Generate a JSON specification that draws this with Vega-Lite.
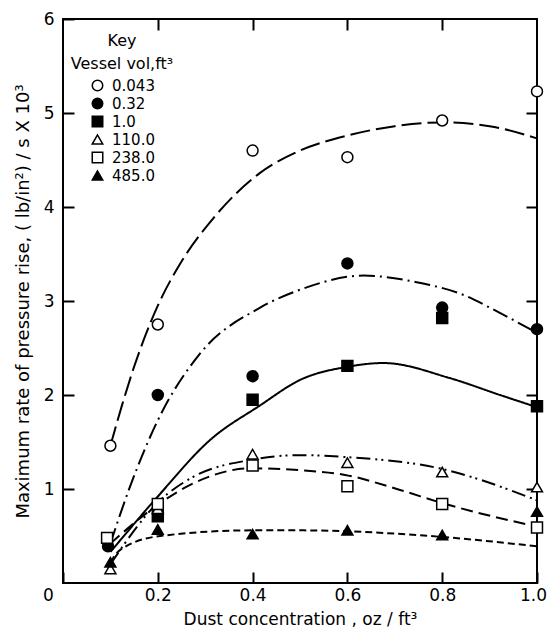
{
  "$schema": "https://vega.github.io/schema/vega-lite/v6.json",
  "width": 474,
  "height": 564,
  "autosize": {"type": "none"},
  "padding": {"left": 63, "top": 19, "right": 14, "bottom": 47},
  "background": "white",
  "config": {
    "view": {"stroke": "black", "strokeWidth": 2},
    "font": "DejaVu Sans",
    "axis": {
      "grid": false,
      "domain": false,
      "labelFlush": false,
      "tickColor": "black",
      "tickWidth": 2,
      "labelColor": "black",
      "titleColor": "black",
      "labelFont": "DejaVu Sans",
      "titleFont": "DejaVu Sans",
      "titleFontWeight": "normal",
      "labelFontSize": 17,
      "titleFontSize": 17
    },
    "legend": {
      "titleFont": "DejaVu Sans",
      "titleFontWeight": "normal",
      "titleFontSize": 16,
      "titleColor": "black",
      "labelFont": "DejaVu Sans",
      "labelFontSize": 15,
      "labelColor": "black"
    }
  },
  "datasets": {
    "points": [
      {"vol": "0.043", "x": 0.1, "y": 1.46},
      {"vol": "0.043", "x": 0.2, "y": 2.75},
      {"vol": "0.043", "x": 0.4, "y": 4.6},
      {"vol": "0.043", "x": 0.6, "y": 4.53},
      {"vol": "0.043", "x": 0.8, "y": 4.92},
      {"vol": "0.043", "x": 1.0, "y": 5.23},
      {"vol": "0.32", "x": 0.095, "y": 0.39},
      {"vol": "0.32", "x": 0.2, "y": 2.0},
      {"vol": "0.32", "x": 0.4, "y": 2.2},
      {"vol": "0.32", "x": 0.6, "y": 3.4},
      {"vol": "0.32", "x": 0.8, "y": 2.93},
      {"vol": "0.32", "x": 1.0, "y": 2.7},
      {"vol": "1.0", "x": 0.2, "y": 0.71},
      {"vol": "1.0", "x": 0.4, "y": 1.95},
      {"vol": "1.0", "x": 0.6, "y": 2.31},
      {"vol": "1.0", "x": 0.8, "y": 2.82},
      {"vol": "1.0", "x": 1.0, "y": 1.88},
      {"vol": "110.0", "x": 0.1, "y": 0.15},
      {"vol": "110.0", "x": 0.2, "y": 0.79},
      {"vol": "110.0", "x": 0.4, "y": 1.37},
      {"vol": "110.0", "x": 0.6, "y": 1.28},
      {"vol": "110.0", "x": 0.8, "y": 1.18},
      {"vol": "110.0", "x": 1.0, "y": 1.02},
      {"vol": "238.0", "x": 0.093, "y": 0.48},
      {"vol": "238.0", "x": 0.2, "y": 0.84},
      {"vol": "238.0", "x": 0.4, "y": 1.25},
      {"vol": "238.0", "x": 0.6, "y": 1.03},
      {"vol": "238.0", "x": 0.8, "y": 0.84},
      {"vol": "238.0", "x": 1.0, "y": 0.59},
      {"vol": "485.0", "x": 0.1, "y": 0.22},
      {"vol": "485.0", "x": 0.2, "y": 0.57},
      {"vol": "485.0", "x": 0.4, "y": 0.52},
      {"vol": "485.0", "x": 0.6, "y": 0.56},
      {"vol": "485.0", "x": 0.8, "y": 0.51},
      {"vol": "485.0", "x": 1.0, "y": 0.76}
    ],
    "curves": [
      {"curve": "fit 0.043", "x": 0.1, "y": 1.46},
      {"curve": "fit 0.043", "x": 0.125, "y": 1.9},
      {"curve": "fit 0.043", "x": 0.15, "y": 2.3},
      {"curve": "fit 0.043", "x": 0.2, "y": 2.95},
      {"curve": "fit 0.043", "x": 0.25, "y": 3.42},
      {"curve": "fit 0.043", "x": 0.317, "y": 3.88},
      {"curve": "fit 0.043", "x": 0.415, "y": 4.36},
      {"curve": "fit 0.043", "x": 0.5, "y": 4.6},
      {"curve": "fit 0.043", "x": 0.6, "y": 4.76},
      {"curve": "fit 0.043", "x": 0.7, "y": 4.86},
      {"curve": "fit 0.043", "x": 0.8, "y": 4.9},
      {"curve": "fit 0.043", "x": 0.9, "y": 4.86},
      {"curve": "fit 0.043", "x": 1.0, "y": 4.73},
      {"curve": "fit 0.32", "x": 0.1, "y": 0.42},
      {"curve": "fit 0.32", "x": 0.141, "y": 1.02},
      {"curve": "fit 0.32", "x": 0.2, "y": 1.73},
      {"curve": "fit 0.32", "x": 0.289, "y": 2.44},
      {"curve": "fit 0.32", "x": 0.416, "y": 2.93},
      {"curve": "fit 0.32", "x": 0.5, "y": 3.12},
      {"curve": "fit 0.32", "x": 0.634, "y": 3.27},
      {"curve": "fit 0.32", "x": 0.746, "y": 3.2},
      {"curve": "fit 0.32", "x": 0.852, "y": 3.05},
      {"curve": "fit 0.32", "x": 0.9, "y": 2.93},
      {"curve": "fit 0.32", "x": 1.0, "y": 2.66},
      {"curve": "fit 1.0", "x": 0.1, "y": 0.33},
      {"curve": "fit 1.0", "x": 0.2, "y": 0.92},
      {"curve": "fit 1.0", "x": 0.31, "y": 1.52},
      {"curve": "fit 1.0", "x": 0.416, "y": 1.89},
      {"curve": "fit 1.0", "x": 0.5, "y": 2.16},
      {"curve": "fit 1.0", "x": 0.6, "y": 2.3},
      {"curve": "fit 1.0", "x": 0.676, "y": 2.34},
      {"curve": "fit 1.0", "x": 0.816, "y": 2.18},
      {"curve": "fit 1.0", "x": 0.922, "y": 2.0},
      {"curve": "fit 1.0", "x": 1.0, "y": 1.87},
      {"curve": "fit 110.0", "x": 0.1, "y": 0.2},
      {"curve": "fit 110.0", "x": 0.205, "y": 0.88},
      {"curve": "fit 110.0", "x": 0.275, "y": 1.13},
      {"curve": "fit 110.0", "x": 0.397, "y": 1.31},
      {"curve": "fit 110.0", "x": 0.5, "y": 1.36},
      {"curve": "fit 110.0", "x": 0.595, "y": 1.34},
      {"curve": "fit 110.0", "x": 0.794, "y": 1.22},
      {"curve": "fit 110.0", "x": 1.0, "y": 0.88},
      {"curve": "fit 238.0", "x": 0.1, "y": 0.42},
      {"curve": "fit 238.0", "x": 0.205, "y": 0.85},
      {"curve": "fit 238.0", "x": 0.275, "y": 1.06},
      {"curve": "fit 238.0", "x": 0.397, "y": 1.22},
      {"curve": "fit 238.0", "x": 0.5, "y": 1.2},
      {"curve": "fit 238.0", "x": 0.595, "y": 1.15},
      {"curve": "fit 238.0", "x": 0.711, "y": 0.99},
      {"curve": "fit 238.0", "x": 0.8, "y": 0.85},
      {"curve": "fit 238.0", "x": 1.0, "y": 0.6},
      {"curve": "fit 485.0", "x": 0.1, "y": 0.22},
      {"curve": "fit 485.0", "x": 0.12, "y": 0.35},
      {"curve": "fit 485.0", "x": 0.205, "y": 0.5},
      {"curve": "fit 485.0", "x": 0.397, "y": 0.56},
      {"curve": "fit 485.0", "x": 0.5, "y": 0.56},
      {"curve": "fit 485.0", "x": 0.8, "y": 0.49},
      {"curve": "fit 485.0", "x": 1.0, "y": 0.39}
    ]
  },
  "layer": [
    {
      "data": {"name": "curves"},
      "mark": {"type": "line", "interpolate": "monotone", "color": "black", "strokeWidth": 2},
      "encoding": {
        "x": {
          "field": "x", "type": "quantitative",
          "scale": {"domain": [0, 1], "nice": false, "zero": false},
          "axis": {
            "orient": "bottom",
            "values": [0, 0.2, 0.4, 0.6, 0.8, 1.0],
            "labelExpr": "datum.value == 0 ? '0' : format(datum.value, '.1f')",
            "tickSize": -11,
            "labelPadding": 15,
            "labelOffset": {"condition": [{"test": "datum.value == 0", "value": -15}, {"test": "datum.value == 1", "value": -4}], "value": 0},
            "title": "Dust concentration , oz / ft³",
            "titlePadding": 8
          }
        },
        "y": {
          "field": "y", "type": "quantitative",
          "scale": {"domain": [0, 6], "nice": false},
          "axis": {
            "orient": "left",
            "values": [1, 2, 3, 4, 5, 6],
            "tickSize": -11,
            "labelPadding": 20,
            "title": "Maximum  rate  of  pressure  rise,  ( lb/in²)  /  s  X  10³",
            "titleFontSize": 18,
            "titlePadding": 11
          }
        },
        "strokeDash": {
          "field": "curve", "type": "nominal",
          "scale": {
            "domain": ["fit 0.043", "fit 0.32", "fit 1.0", "fit 110.0", "fit 238.0", "fit 485.0"],
            "range": [[20, 6], [16, 5, 2, 5], [1, 0], [14, 5, 2, 4, 2, 5], [12, 6], [7, 4]]
          },
          "legend": null
        }
      }
    },
    {
      "data": {"name": "points"},
      "mark": {"type": "point", "stroke": "black", "strokeWidth": 1.5, "opacity": 1, "fillOpacity": 1, "size": 120},
      "encoding": {
        "x": {
          "field": "x", "type": "quantitative",
          "axis": {"orient": "top", "values": [0.2, 0.4, 0.6, 0.8], "labels": false, "tickSize": -11, "title": null}
        },
        "y": {
          "field": "y", "type": "quantitative",
          "axis": {"orient": "right", "values": [1, 2, 3, 4, 5], "labels": false, "tickSize": -11, "title": null}
        },
        "shape": {
          "field": "vol", "type": "nominal",
          "scale": {
            "domain": ["0.043", "0.32", "1.0", "110.0", "238.0", "485.0"],
            "range": ["circle", "circle", "square", "triangle-up", "square", "triangle-up"]
          },
          "legend": {
            "title": ["Key", "Vessel vol,ft³"],
            "orient": "none",
            "legendX": 8,
            "legendY": 14,
            "titleAlign": "center",
            "titleAnchor": "middle",
            "titleLineHeight": 23,
            "titlePadding": 6,
            "labelOffset": 7,
            "labelExpr": "datum.value == '110.0' || datum.value == '238.0' || datum.value == '485.0' ? datum.label : '\u00a0\u00a0\u00a0\u00a0' + datum.label",
            "symbolStrokeWidth": 1.5,
            "symbolSize": 110,
            "rowPadding": 1,
            "padding": 0
          }
        },
        "fill": {
          "field": "vol", "type": "nominal",
          "scale": {
            "domain": ["0.043", "0.32", "1.0", "110.0", "238.0", "485.0"],
            "range": ["white", "black", "black", "white", "white", "black"]
          },
          "legend": {
            "title": ["Key", "Vessel vol,ft³"],
            "orient": "none",
            "legendX": 8,
            "legendY": 14,
            "titleAlign": "center",
            "titleAnchor": "middle",
            "titleLineHeight": 23,
            "titlePadding": 6,
            "labelOffset": 7,
            "labelExpr": "datum.value == '110.0' || datum.value == '238.0' || datum.value == '485.0' ? datum.label : '\u00a0\u00a0\u00a0\u00a0' + datum.label",
            "symbolStrokeWidth": 1.5,
            "symbolSize": 110,
            "rowPadding": 1,
            "padding": 0
          }
        }
      }
    }
  ],
  "resolve": {"axis": {"x": "independent", "y": "independent"}}
}
